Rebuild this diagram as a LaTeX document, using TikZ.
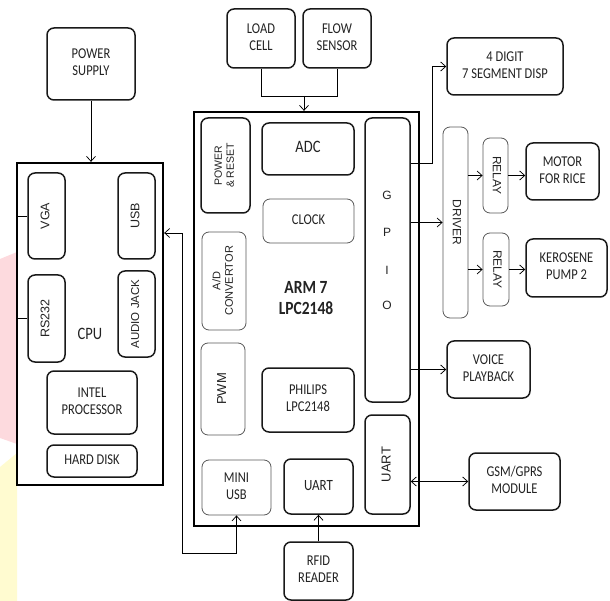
\documentclass[tikz,border=0pt]{standalone}
\usepackage{fontspec}
\setmainfont{Carlito}
\newfontfamily\arialf{Liberation Sans}
\usetikzlibrary{arrows.meta}
\definecolor{bgpink}{RGB}{253,218,222}
\definecolor{bgyellow}{RGB}{255,251,208}
\definecolor{txt}{RGB}{35,35,35}
\newcommand\TT[1]{\scalebox{1}[1.2]{\begin{tabular}{@{}c@{}}#1\end{tabular}}}
\newcommand\RTu[1]{\rotatebox{90}{\arialf\begin{tabular}{@{}c@{}}#1\end{tabular}}}
\newcommand\RTd[1]{\rotatebox{-90}{\arialf\begin{tabular}{@{}c@{}}#1\end{tabular}}}
\tikzset{
  box/.style={draw=black!90, line width=1.5pt, rounded corners=7pt, fill=white, inner sep=0pt, text=txt,
    font=\fontsize{12.5}{14}\selectfont},
  tbox/.style={box, line width=0.8pt, draw=black!65},
  big/.style={draw=black, line width=2.3pt, fill=white, inner sep=0pt},
  arr/.style={line width=0.75pt, -{Straight Barb[length=5pt,width=9pt,line width=0.75pt]}},
  arrb/.style={line width=0.75pt, {Straight Barb[length=5pt,width=9pt,line width=0.75pt]}-{Straight Barb[length=5pt,width=9pt,line width=0.75pt]}},
  ln/.style={line width=0.75pt}
}
\begin{document}
\begin{tikzpicture}[x=1pt,y=-1pt]
\useasboundingbox (0,0) rectangle (610,601);
% background decoration
\fill[bgpink] (0,259) -- (17,252) -- (17,444) -- (0,438) -- cycle;
\fill[bgyellow] (0,467) -- (17,453) -- (17,601) -- (0,601) -- cycle;

% CPU block
\node[big, minimum width=146pt, minimum height=322pt] (cpu) at (90,324) {};
\node[box, minimum width=88pt, minimum height=72pt] (ps) at (91,64) {\raisebox{6pt}{\TT{POWER\\SUPPLY}}};
\node[box, minimum width=37pt, minimum height=86pt, font=\fontsize{12.5}{14}\selectfont] (vga) at (46.5,216) {\RTu{VGA}};
\node[box, minimum width=37pt, minimum height=86pt, font=\fontsize{12.5}{14}\selectfont] (usb) at (136.5,216) {\RTu{USB}};
\node[box, minimum width=37pt, minimum height=87pt, font=\fontsize{12.5}{14}\selectfont] (rs) at (46.5,318.5) {\RTu{RS232}};
\node[box, minimum width=37pt, minimum height=86pt, font=\fontsize{11.5}{13}\selectfont] (aj) at (136.5,314) {\RTu{AUDIO JACK}};
\node[text=txt, font=\fontsize{14.5}{16}\selectfont] (cputxt) at (90,336) {\TT{CPU}};
\node[box, minimum width=90pt, minimum height=63pt] (intel) at (92,402.5) {\TT{INTEL\\PROCESSOR}};
\node[box, minimum width=90pt, minimum height=32pt] (hd) at (92,461) {\TT{HARD DISK}};

% ARM block
\node[big, minimum width=225pt, minimum height=414pt] (arm) at (306.5,319) {};
\node[box, minimum width=68pt, minimum height=59pt] (load) at (261,38.5) {\TT{LOAD\\CELL}};
\node[box, minimum width=68pt, minimum height=59pt] (flow) at (337,38.5) {\TT{FLOW\\SENSOR}};
\node[box, minimum width=49pt, minimum height=95pt, font=\fontsize{10.5}{12}\selectfont] (pr) at (225.5,165.5) {\RTu{POWER\\\& RESET}};
\node[box, minimum width=92pt, minimum height=52pt, font=\fontsize{14.5}{16}\selectfont] (adc) at (308,149) {\TT{ADC}};
\node[tbox, minimum width=91pt, minimum height=44pt] (clock) at (308.5,221) {\TT{CLOCK}};
\node[tbox, minimum width=44pt, minimum height=98pt, font=\fontsize{11}{12.5}\selectfont] (adconv) at (224,281) {\RTu{A/D\\CONVERTOR}};
\node[text=txt, font=\bfseries\fontsize{15.5}{17}\selectfont] (armtxt) at (306,300) {\TT{ARM 7\\LPC2148}};
\node[tbox, minimum width=44pt, minimum height=92pt, font=\fontsize{13}{15}\selectfont] (pwm) at (223,389) {\RTu{PWM}};
\node[box, minimum width=92pt, minimum height=64pt] (phil) at (308,400) {\TT{PHILIPS\\LPC2148}};
\node[tbox, minimum width=69pt, minimum height=55pt] (mini) at (236.5,487.5) {\TT{MINI\\USB}};
\node[box, minimum width=69pt, minimum height=55pt, font=\fontsize{13}{15}\selectfont] (uart1) at (318.5,486.5) {\TT{UART}};
\node[box, minimum width=45pt, minimum height=99pt, font=\fontsize{13}{15}\selectfont] (uart2) at (387.5,464.5) {\RTu{UART}};
\node[box, minimum width=45pt, minimum height=284pt] (gpio) at (387.5,260) {};
\node[text=txt, font=\arialf\fontsize{12}{13}\selectfont] (gG) at (387,195) {G};
\node[text=txt, font=\arialf\fontsize{12}{13}\selectfont] (gP) at (387,232) {P};
\node[text=txt, font=\arialf\fontsize{12}{13}\selectfont] (gI) at (387,270) {I};
\node[text=txt, font=\arialf\fontsize{12}{13}\selectfont] (gO) at (387,305) {O};
\node[box, minimum width=69pt, minimum height=58pt] (rfid) at (318.5,571) {\TT{RFID\\READER}};

% right side
\node[box, minimum width=116pt, minimum height=57pt] (digit) at (505,66.5) {\TT{4 DIGIT\\7 SEGMENT DISP}};
\node[tbox, minimum width=25pt, minimum height=191pt, font=\fontsize{12}{13}\selectfont] (drv) at (455.5,222.5) {\RTd{DRIVER}};
\node[tbox, minimum width=25pt, minimum height=75pt, font=\fontsize{12}{13}\selectfont] (r1) at (495.5,175.5) {\RTd{RELAY}};
\node[box, minimum width=73pt, minimum height=57pt] (motor) at (562.5,171.5) {\TT{MOTOR\\FOR RICE}};
\node[tbox, minimum width=26pt, minimum height=73pt, font=\fontsize{12}{13}\selectfont] (r2) at (496,269.5) {\RTd{RELAY}};
\node[box, minimum width=81pt, minimum height=58pt] (kero) at (566.5,268) {\TT{KEROSENE\\PUMP 2}};
\node[box, minimum width=83pt, minimum height=57pt] (voice) at (488.5,369.5) {\TT{VOICE\\PLAYBACK}};
\node[box, minimum width=91pt, minimum height=57pt] (gsm) at (514.5,481.5) {\TT{GSM/GPRS\\MODULE}};

% connectors
\draw[arr] (ps.south) -- (ps.south |- cpu.north);
\draw[ln] (vga.west) -- (vga.west -| cpu.west);
\draw[ln] (rs.west) -- (rs.west -| cpu.west);
\coordinate (j) at (304,96);
\draw[ln] (load.south) -- (load.south |- j) -- (flow.south |- j) -- (flow.south);
\draw[arr] (j) -- (j |- arm.north);
\coordinate (u1) at (182,233);
\coordinate (u2) at (182,553);
\draw[arrb] (u1 -| cpu.east) -- (u1) -- (u2) -- (u2 -| mini.south) -- (mini.south);
\coordinate (g1) at (432,163);
\draw[arr] (g1 -| gpio.east) -- (g1) -- (g1 |- digit.west) -- (digit.west);
\draw[arr] (gpio.east |- drv.west) -- (drv.west);
\draw[arr] (drv.east |- r1.west) -- (r1.west);
\draw[arr] (r1.east) -- (r1.east -| motor.west);
\draw[arr] (drv.east |- r2.west) -- (r2.west);
\draw[arr] (r2.east) -- (r2.east -| kero.west);
\draw[arr] (gpio.east |- voice.west) -- (voice.west);
\draw[arrb] (uart2.east |- gsm.west) -- (gsm.west);
\draw[arr] (rfid.north) -- (uart1.south);
\end{tikzpicture}
\end{document}
